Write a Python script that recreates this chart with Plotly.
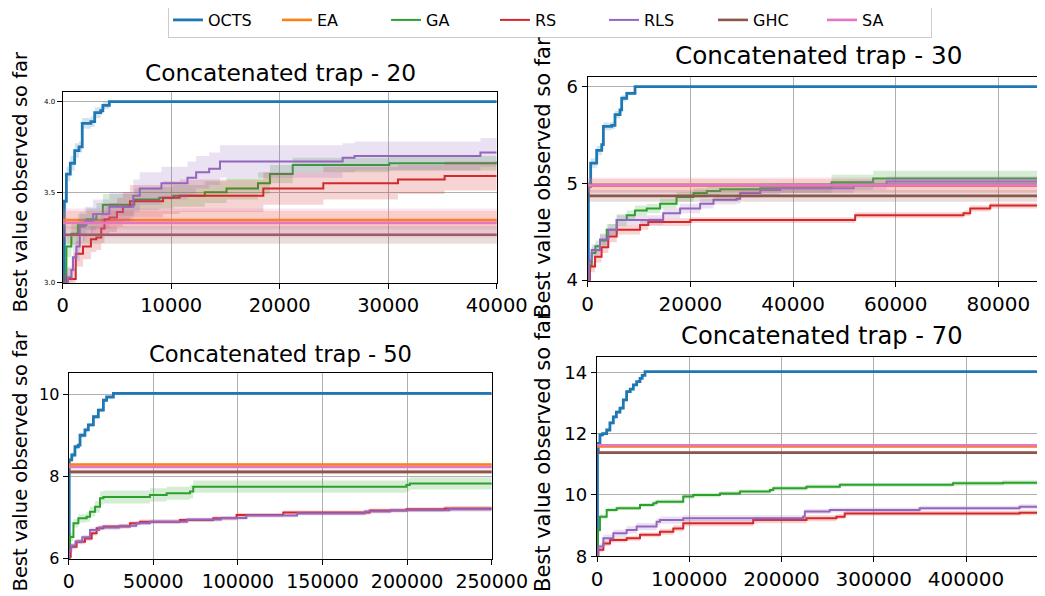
import plotly.graph_objects as go

NAMES = ["OCTS", "EA", "GA", "RS", "RLS", "GHC", "SA"]
COLORS = ["#1f77b4", "#ff7f0e", "#2ca02c", "#d62728", "#9467bd", "#8c564b", "#e377c2"]
TITLES = ["Concatenated trap - 20", "Concatenated trap - 30",
          "Concatenated trap - 50", "Concatenated trap - 70"]
YLABEL = "Best value observed so far"

# ---------------- Concatenated trap - 20 ----------------
T20_OCTS_X = [0, 150, 340, 700, 1100, 1500, 1800, 2600, 2950, 3500, 3700, 4300, 40000]
T20_OCTS_Y = [3.0, 3.45, 3.60, 3.66, 3.73, 3.75, 3.88, 3.89, 3.94, 3.95, 3.98, 4.0, 4.0]
T20_OCTS_E = [0.0, 0.05, 0.04, 0.04, 0.04, 0.03, 0.03, 0.03, 0.03, 0.02, 0.02, 0.005, 0.005]
T20_GA_X = [0, 340, 800, 1400, 2200, 3100, 3700, 6600, 8900, 10200, 13100, 15100, 18000, 19100, 21200, 30100, 40000]
T20_GA_Y = [3.0, 3.20, 3.27, 3.32, 3.35, 3.38, 3.43, 3.46, 3.47, 3.48, 3.50, 3.52, 3.55, 3.60, 3.65, 3.66, 3.67]
T20_GA_E = [0.05, 0.06, 0.06, 0.06, 0.06, 0.06, 0.06, 0.06, 0.06, 0.06, 0.06, 0.06, 0.06, 0.05, 0.04, 0.04, 0.04]
T20_RS_X = [0, 400, 1200, 1870, 2600, 3100, 3550, 3850, 4300, 5000, 5550, 6200, 9250, 10780, 18490, 24020, 30900, 35200, 40000]
T20_RS_Y = [3.0, 3.02, 3.16, 3.20, 3.24, 3.25, 3.30, 3.35, 3.36, 3.39, 3.42, 3.45, 3.47, 3.48, 3.52, 3.55, 3.57, 3.59, 3.59]
T20_RS_E = [0.05, 0.06, 0.07, 0.07, 0.07, 0.07, 0.08, 0.08, 0.08, 0.08, 0.08, 0.09, 0.09, 0.09, 0.09, 0.09, 0.08, 0.08, 0.08]
T20_RLS_X = [0, 490, 800, 950, 1260, 1570, 2030, 2800, 4300, 6500, 7100, 9100, 11500, 12300, 13500, 14500, 25800, 26900, 38500, 40000]
T20_RLS_Y = [3.0, 3.03, 3.07, 3.14, 3.20, 3.31, 3.34, 3.38, 3.42, 3.48, 3.52, 3.55, 3.58, 3.61, 3.63, 3.67, 3.69, 3.70, 3.72, 3.72]
T20_RLS_E = [0.05, 0.06, 0.07, 0.08, 0.08, 0.08, 0.08, 0.08, 0.08, 0.09, 0.09, 0.09, 0.09, 0.09, 0.09, 0.09, 0.08, 0.08, 0.08, 0.08]
T20_FLAT_MEAN = [3.346, 3.265, 3.33]   # EA, GHC, SA
T20_FLAT_ERR = [0.05, 0.05, 0.08]

# ---------------- Concatenated trap - 30 ----------------
T30_OCTS_X = [0, 130, 580, 1750, 2730, 3050, 4680, 5320, 6300, 6620, 7600, 9220, 90000]
T30_OCTS_Y = [4.0, 4.97, 5.21, 5.34, 5.40, 5.59, 5.60, 5.71, 5.76, 5.88, 5.93, 6.0, 6.0]
T30_OCTS_E = [0.0, 0.05, 0.05, 0.05, 0.05, 0.04, 0.04, 0.04, 0.03, 0.03, 0.02, 0.0, 0.0]
T30_GA_X = [0, 200, 780, 1500, 2400, 3700, 5650, 7600, 9200, 11500, 14100, 17300, 20600, 23200, 25800, 33600, 47500, 55600, 90000]
T30_GA_Y = [4.0, 4.15, 4.28, 4.35, 4.41, 4.52, 4.62, 4.67, 4.72, 4.74, 4.79, 4.86, 4.90, 4.92, 4.94, 4.95, 5.01, 5.05, 5.05]
T30_GA_E = [0.05, 0.06, 0.06, 0.06, 0.06, 0.06, 0.06, 0.05, 0.05, 0.05, 0.05, 0.05, 0.05, 0.05, 0.05, 0.05, 0.08, 0.08, 0.08]
T30_RS_X = [0, 450, 1430, 2700, 4000, 5650, 10200, 11800, 20000, 52100, 73200, 74500, 78400, 90000]
T30_RS_Y = [4.0, 4.14, 4.24, 4.34, 4.45, 4.52, 4.57, 4.60, 4.62, 4.67, 4.69, 4.74, 4.77, 4.77]
T30_RS_E = [0.05, 0.06, 0.06, 0.06, 0.06, 0.05, 0.05, 0.04, 0.03, 0.03, 0.03, 0.03, 0.03, 0.03]
T30_RLS_X = [0, 300, 780, 2400, 4000, 5650, 12800, 14700, 18000, 21900, 24500, 29000, 29700, 33600, 37500, 51800, 58200, 90000]
T30_RLS_Y = [4.0, 4.20, 4.31, 4.42, 4.52, 4.62, 4.62, 4.69, 4.74, 4.79, 4.83, 4.84, 4.90, 4.93, 4.95, 4.98, 5.02, 5.02]
T30_RLS_E = [0.05, 0.06, 0.06, 0.06, 0.06, 0.05, 0.05, 0.05, 0.05, 0.05, 0.05, 0.05, 0.05, 0.05, 0.05, 0.05, 0.05, 0.05]
T30_FLAT_MEAN = [4.975, 4.87, 4.98]
T30_FLAT_ERR = [0.07, 0.06, 0.08]

# ---------------- Concatenated trap - 50 ----------------
T50_OCTS_X = [0, 300, 1800, 3700, 5700, 6700, 9600, 11600, 14600, 17500, 20500, 22400, 26400, 250000]
T50_OCTS_Y = [6.0, 8.40, 8.52, 8.72, 8.76, 9.00, 9.13, 9.25, 9.45, 9.61, 9.85, 9.93, 10.02, 10.02]
T50_OCTS_E = [0.0, 0.06, 0.06, 0.06, 0.06, 0.06, 0.06, 0.05, 0.05, 0.05, 0.04, 0.03, 0.0, 0.0]
T50_GA_X = [0, 300, 800, 2800, 5700, 10600, 12600, 15600, 18500, 20500, 38200, 48000, 57900, 71700, 73600, 179900, 199600, 201600, 250000]
T50_GA_Y = [6.0, 6.20, 6.53, 6.86, 6.98, 7.02, 7.14, 7.26, 7.47, 7.50, 7.50, 7.55, 7.59, 7.63, 7.75, 7.75, 7.79, 7.83, 7.84]
T50_GA_E = [0.05, 0.08, 0.1, 0.1, 0.1, 0.12, 0.12, 0.14, 0.16, 0.16, 0.16, 0.16, 0.16, 0.16, 0.15, 0.15, 0.15, 0.15, 0.15]
T50_RS_X = [0, 300, 1200, 4700, 9600, 13600, 16500, 20500, 34300, 36200, 42100, 65700, 85400, 99200, 126800, 177900, 199600, 222200, 250000]
T50_RS_Y = [6.0, 6.05, 6.29, 6.41, 6.49, 6.62, 6.74, 6.78, 6.78, 6.86, 6.90, 6.94, 6.98, 7.06, 7.12, 7.17, 7.20, 7.22, 7.22]
T50_RS_E = [0.03, 0.05, 0.06, 0.06, 0.06, 0.06, 0.05, 0.05, 0.05, 0.05, 0.05, 0.05, 0.05, 0.05, 0.05, 0.05, 0.05, 0.06, 0.06]
T50_RLS_X = [0, 300, 1500, 4000, 8000, 12600, 18000, 30000, 40000, 48000, 70000, 90000, 105000, 135000, 175000, 190000, 225000, 250000]
T50_RLS_Y = [6.0, 6.20, 6.32, 6.42, 6.52, 6.70, 6.76, 6.80, 6.86, 6.90, 6.95, 6.99, 7.05, 7.10, 7.15, 7.18, 7.20, 7.20]
T50_RLS_E = [0.04, 0.06, 0.06, 0.06, 0.06, 0.06, 0.06, 0.05, 0.05, 0.05, 0.05, 0.05, 0.05, 0.05, 0.05, 0.05, 0.06, 0.06]
T50_FLAT_MEAN = [8.29, 8.11, 8.23]
T50_FLAT_ERR = [0.03, 0.06, 0.04]

# ---------------- Concatenated trap - 70 ----------------
T70_OCTS_X = [0, 500, 1400, 3200, 6000, 10500, 14000, 17700, 21000, 24900, 28500, 32100, 36000, 39400, 43000, 46600, 49000, 52000, 500000]
T70_OCTS_Y = [8.0, 11.40, 11.68, 11.96, 12.00, 12.12, 12.35, 12.55, 12.70, 12.83, 13.10, 13.37, 13.45, 13.59, 13.70, 13.80, 13.90, 14.02, 14.02]
T70_OCTS_E = [0.0, 0.06, 0.06, 0.06, 0.06, 0.06, 0.06, 0.06, 0.06, 0.06, 0.05, 0.05, 0.05, 0.05, 0.04, 0.04, 0.03, 0.0, 0.0]
T70_GA_X = [0, 700, 3200, 10500, 21300, 43000, 46600, 61000, 64600, 86300, 93500, 104300, 133200, 154900, 187400, 191000, 227000, 263200, 385900, 440000, 500000]
T70_GA_Y = [8.0, 8.86, 9.29, 9.51, 9.57, 9.57, 9.67, 9.73, 9.78, 9.78, 9.95, 10.00, 10.05, 10.11, 10.16, 10.22, 10.27, 10.33, 10.38, 10.40, 10.40]
T70_GA_E = [0.05, 0.08, 0.08, 0.07, 0.07, 0.07, 0.07, 0.07, 0.07, 0.07, 0.07, 0.07, 0.07, 0.07, 0.07, 0.07, 0.07, 0.07, 0.08, 0.08, 0.08]
T70_RS_X = [0, 1400, 6900, 14100, 32100, 46600, 68200, 82700, 93500, 169300, 227000, 259500, 268500, 458100, 500000]
T70_RS_Y = [8.0, 8.21, 8.42, 8.53, 8.59, 8.70, 8.80, 8.91, 9.08, 9.18, 9.24, 9.29, 9.40, 9.42, 9.43]
T70_RS_E = [0.05, 0.08, 0.08, 0.08, 0.08, 0.08, 0.1, 0.1, 0.1, 0.1, 0.1, 0.08, 0.08, 0.08, 0.08]
T70_RLS_X = [0, 1400, 6900, 17700, 32100, 43000, 64600, 68200, 93500, 223500, 225300, 252300, 349800, 458100, 500000]
T70_RLS_Y = [8.0, 8.32, 8.59, 8.75, 8.86, 8.97, 9.13, 9.18, 9.24, 9.29, 9.46, 9.51, 9.57, 9.62, 9.64]
T70_RLS_E = [0.06, 0.1, 0.12, 0.12, 0.12, 0.12, 0.12, 0.12, 0.1, 0.1, 0.08, 0.08, 0.08, 0.08, 0.08]
T70_FLAT_MEAN = [11.58, 11.38, 11.62]
T70_FLAT_ERR = [0.04, 0.05, 0.04]

FLAT_NAMES = ["EA", "GHC", "SA"]

# axis ticks
T20_XTICKS = [0, 10000, 20000, 30000, 40000]
T20_YTICKS = [3.0, 3.5, 4.0]
T30_XTICKS = [0, 20000, 40000, 60000, 80000]
T30_YTICKS = [4, 5, 6]
T50_XTICKS = [0, 50000, 100000, 150000, 200000, 250000]
T50_YTICKS = [6, 8, 10]
T70_XTICKS = [0, 100000, 200000, 300000, 400000]
T70_YTICKS = [8, 10, 12, 14]

# page offset (browser body margin) and figure size
OFF = 8
W, H = 1045 - OFF, 596 - OFF
FONT = "DejaVu Sans"


def dom(l, t, r, b):
    """pixel box in the window -> paper domains"""
    return ([max(0.0, (l - OFF) / W), min(1.0, (r - OFF) / W)],
            [1 - (b - OFF) / H, 1 - (t - OFF) / H])


PANELS = [
    dict(curves={"OCTS": (T20_OCTS_X, T20_OCTS_Y, T20_OCTS_E), "GA": (T20_GA_X, T20_GA_Y, T20_GA_E),
                 "RS": (T20_RS_X, T20_RS_Y, T20_RS_E), "RLS": (T20_RLS_X, T20_RLS_Y, T20_RLS_E)},
         flat=dict(zip(FLAT_NAMES, zip(T20_FLAT_MEAN, T20_FLAT_ERR))),
         xticks=T20_XTICKS, yticks=T20_YTICKS, ytext=[f"{v:.1f}" for v in T20_YTICKS],
         xrange=[0, 40000], yrange=[3.0, 4.052],
         box=(62.7, 92.3, 496.7, 282.7), xfont=19.5, yfont=7, right=True),
    dict(curves={"OCTS": (T30_OCTS_X, T30_OCTS_Y, T30_OCTS_E), "GA": (T30_GA_X, T30_GA_Y, T30_GA_E),
                 "RS": (T30_RS_X, T30_RS_Y, T30_RS_E), "RLS": (T30_RLS_X, T30_RLS_Y, T30_RLS_E)},
         flat=dict(zip(FLAT_NAMES, zip(T30_FLAT_MEAN, T30_FLAT_ERR))),
         xticks=T30_XTICKS, yticks=T30_YTICKS, ytext=[str(v) for v in T30_YTICKS],
         xrange=[0, 89070], yrange=[3.993, 6.103],
         box=(587.7, 76.7, 1045, 280.7), xfont=20, yfont=18, right=False),
    dict(curves={"OCTS": (T50_OCTS_X, T50_OCTS_Y, T50_OCTS_E), "GA": (T50_GA_X, T50_GA_Y, T50_GA_E),
                 "RS": (T50_RS_X, T50_RS_Y, T50_RS_E), "RLS": (T50_RLS_X, T50_RLS_Y, T50_RLS_E)},
         flat=dict(zip(FLAT_NAMES, zip(T50_FLAT_MEAN, T50_FLAT_ERR))),
         xticks=T50_XTICKS, yticks=T50_YTICKS, ytext=[str(v) for v in T50_YTICKS],
         xrange=[0, 250000], yrange=[6.0, 10.52],
         box=(68.7, 372.7, 491.7, 558.7), xfont=19, yfont=16, right=True),
    dict(curves={"OCTS": (T70_OCTS_X, T70_OCTS_Y, T70_OCTS_E), "GA": (T70_GA_X, T70_GA_Y, T70_GA_E),
                 "RS": (T70_RS_X, T70_RS_Y, T70_RS_E), "RLS": (T70_RLS_X, T70_RLS_Y, T70_RLS_E)},
         flat=dict(zip(FLAT_NAMES, zip(T70_FLAT_MEAN, T70_FLAT_ERR))),
         xticks=T70_XTICKS, yticks=T70_YTICKS, ytext=[str(v) for v in T70_YTICKS],
         xrange=[0, 485640], yrange=[8.0, 14.51],
         box=(597, 356.7, 1045, 556.3), xfont=20, yfont=18, right=False),
]

# annotation placement (window pixels)
TITLE_POS = [(280, 73, 23.3), (818, 56, 24.7), (280, 354, 22.6), (822, 336, 24.2)]
YLAB_POS = [(19.5, 182, 19.5), (543, 178, 21), (19.5, 461, 19.5), (543, 452, 21)]
LEGEND_LEFT, LEGEND_MID = 168, 20


def rgba(hexc, a):
    h = hexc.lstrip("#")
    return f"rgba({int(h[0:2], 16)},{int(h[2:4], 16)},{int(h[4:6], 16)},{a})"


fig = go.Figure()

for i, p in enumerate(PANELS):
    k = "" if i == 0 else str(i + 1)
    xa, ya = "x" + k, "y" + k
    xend = p["xrange"][1] * 1.05
    for name, col in zip(NAMES, COLORS):
        if name in p["curves"]:
            X, Y, E = p["curves"][name]
            lw = 2.8 if name == "OCTS" else 2.0
        else:
            m, e = p["flat"][name]
            X, Y, E = [0, xend], [m, m], [e, e]
            lw = 2.6
        lo = [y - e for y, e in zip(Y, E)]
        hi = [y + e for y, e in zip(Y, E)]
        fig.add_trace(go.Scatter(x=X, y=lo, mode="lines", line=dict(width=0, shape="hv"),
                                 xaxis=xa, yaxis=ya, showlegend=False, hoverinfo="skip"))
        fig.add_trace(go.Scatter(x=X, y=hi, mode="lines", line=dict(width=0, shape="hv"),
                                 fill="tonexty", fillcolor=rgba(col, 0.2),
                                 xaxis=xa, yaxis=ya, showlegend=False, hoverinfo="skip"))
        fig.add_trace(go.Scatter(x=X, y=Y, mode="lines", line=dict(color=col, width=lw, shape="hv"),
                                 name=name, legendgroup=name, showlegend=(i == 0),
                                 xaxis=xa, yaxis=ya))

    xdom, ydom = dom(*p["box"])
    axis_common = dict(showgrid=True, gridcolor="#b0b0b0", gridwidth=1, zeroline=False,
                       showline=True, linecolor="black", linewidth=1.3, automargin=False,
                       ticks="outside", ticklen=5, tickcolor="black", tickwidth=1.2)
    fig.layout["xaxis" + k] = dict(axis_common, domain=xdom, range=p["xrange"], anchor=ya,
                                   tickvals=p["xticks"], ticktext=[str(v) for v in p["xticks"]],
                                   tickfont=dict(size=p["xfont"], family=FONT, color="black"),
                                   mirror=True)
    fig.layout["yaxis" + k] = dict(axis_common, domain=ydom, range=p["yrange"], anchor=xa,
                                   tickvals=p["yticks"], ticktext=p["ytext"],
                                   tickfont=dict(size=p["yfont"], family=FONT, color="black"),
                                   mirror=p["right"])

annotations = []
for (tx, ty, ts), title in zip(TITLE_POS, TITLES):
    annotations.append(dict(text=title, x=(tx - OFF) / W, y=1 - (ty - OFF) / H,
                            xref="paper", yref="paper",
                            xanchor="center", yanchor="middle", showarrow=False,
                            font=dict(size=ts, family=FONT, color="black")))
for (lx, ly, ls) in YLAB_POS:
    annotations.append(dict(text=YLABEL, x=(lx - OFF) / W, y=1 - (ly - OFF) / H,
                            xref="paper", yref="paper",
                            xanchor="center", yanchor="middle", showarrow=False, textangle=-90,
                            font=dict(size=ls, family=FONT, color="black")))

fig.update_layout(
    width=W, height=H,
    margin=dict(l=0, r=0, t=0, b=0, autoexpand=False),
    paper_bgcolor="white", plot_bgcolor="white",
    annotations=annotations,
    legend=dict(orientation="h", x=(LEGEND_LEFT - OFF) / W, y=1 - (LEGEND_MID - OFF) / H,
                xanchor="left", yanchor="middle",
                bgcolor="white", bordercolor="#cccccc", borderwidth=1, entrywidth=64,
                font=dict(size=16, family=FONT, color="black")),
    font=dict(family=FONT, color="black"),
)

fig.write_html("out.html")
